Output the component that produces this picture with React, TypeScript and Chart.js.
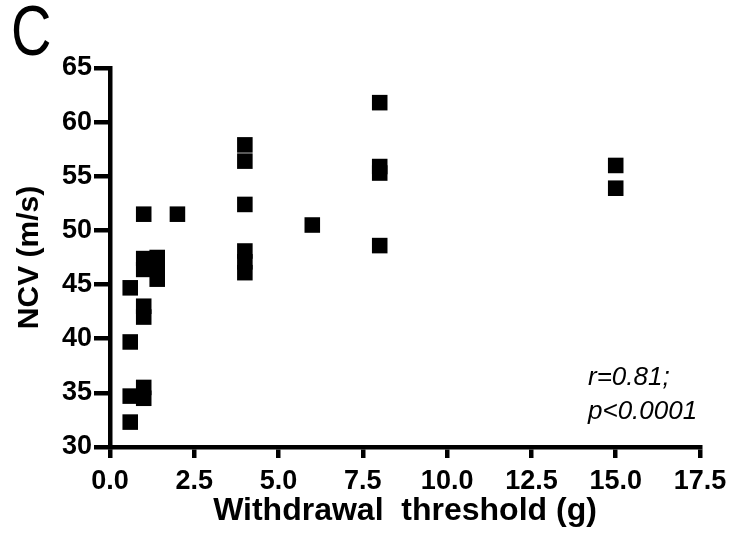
import React, { useEffect, useRef } from "react";
import { Chart, registerables } from "chart.js";

Chart.register(...registerables);

const xValues = [0.6, 0.6, 0.6, 0.6, 1.0, 1.0, 1.0, 1.0, 1.0, 1.0, 1.0, 1.4, 1.4, 1.4, 2.0, 4.0, 4.0, 4.0, 4.0, 4.0, 4.0, 6.0, 8.0, 8.0, 8.0, 8.0, 15.0, 15.0];
const yValues = [44.7, 39.7, 34.7, 32.3, 51.5, 47.4, 46.4, 43.0, 42.0, 35.5, 34.5, 47.5, 46.5, 45.5, 51.5, 57.9, 56.4, 52.4, 48.1, 47.1, 46.1, 50.5, 61.8, 55.9, 55.3, 48.6, 56.0, 53.9];
const xTicks = { min: 0, max: 17.5, step: 2.5 };
const yTicks = { min: 30, max: 65, step: 5 };
const annotationLines = ["r=0.81;", "p<0.0001"];
const panelLabel = "C";
const xTitle = "Withdrawal  threshold (g)";
const yTitle = "NCV (m/s)";

const FONT = "'Liberation Sans', Arial, sans-serif";

export default function App() {
  const ref = useRef<HTMLCanvasElement | null>(null);
  useEffect(() => {
    document.body.style.margin = "0";
    const canvas = ref.current;
    if (!canvas) return;
    const textPlugin = {
      id: "extraText",
      afterDraw(chart: any) {
        const ctx = chart.ctx;
        const area = chart.chartArea;
        ctx.save();
        ctx.fillStyle = "#000";
        ctx.textBaseline = "alphabetic";
        ctx.textAlign = "left";
        ctx.save();
        ctx.translate(11, 55);
        ctx.scale(0.8, 1);
        ctx.font = `70px ${FONT}`;
        ctx.fillText(panelLabel, 0, 0);
        ctx.restore();
        ctx.font = `italic 26px ${FONT}`;
        ctx.fillText(annotationLines[0], area.right - 112, area.bottom - 62);
        ctx.fillText(annotationLines[1], area.right - 112, area.bottom - 28);
        ctx.restore();
      },
    };
    const chart = new Chart(canvas, {
      type: "scatter",
      data: {
        datasets: [
          {
            data: xValues.map((x, i) => ({ x, y: yValues[i] })),
            pointStyle: "rect",
            pointRadius: 11,
            pointHoverRadius: 11,
            backgroundColor: "#000",
            borderColor: "#000",
            borderWidth: 0,
          },
        ],
      },
      options: {
        animation: false,
        responsive: false,
        events: [],
        layout: { padding: { top: 68, right: 29, left: 0, bottom: 0 } },
        plugins: { legend: { display: false }, tooltip: { enabled: false }, title: { display: false } },
        scales: {
          x: {
            type: "linear",
            min: xTicks.min,
            max: xTicks.max,
            afterFit(scale: any) {
              scale.height = 91;
              scale.paddingRight = 20;
              scale.paddingLeft = 0;
            },
            ticks: {
              stepSize: xTicks.step,
              color: "#000",
              font: { family: FONT, size: 27, weight: "bold" },
              padding: 7,
              callback: (v: any) => Number(v).toFixed(1),
            },
            grid: { display: true, drawOnChartArea: false, drawTicks: true, tickLength: 11, lineWidth: 4.5, color: "#000" },
            border: { display: true, width: 4.5, color: "#000" },
            title: { display: true, text: xTitle, color: "#000", font: { family: FONT, size: 32, weight: "bold" }, padding: { top: 4, bottom: 8 } },
          },
          y: {
            type: "linear",
            min: yTicks.min,
            max: yTicks.max,
            afterFit(scale: any) {
              scale.width = 110;
            },
            ticks: {
              stepSize: yTicks.step,
              color: "#000",
              font: { family: FONT, size: 27, weight: "bold" },
              padding: 2,
            },
            grid: { display: true, drawOnChartArea: false, drawTicks: true, tickLength: 16, lineWidth: 4.5, color: "#000" },
            border: { display: true, width: 4.5, color: "#000" },
            title: { display: true, text: yTitle, color: "#000", font: { family: FONT, size: 30, weight: "bold" }, padding: { top: 12, bottom: 0 } },
          },
        },
      },
      plugins: [textPlugin],
    } as any);
    return () => chart.destroy();
  }, []);
  return (
    <div style={{ position: "absolute", left: 0, top: 0, width: 729, height: 538, background: "#fff" }}>
      <canvas ref={ref} width={729} height={538} style={{ width: 729, height: 538, display: "block" }} />
    </div>
  );
}
